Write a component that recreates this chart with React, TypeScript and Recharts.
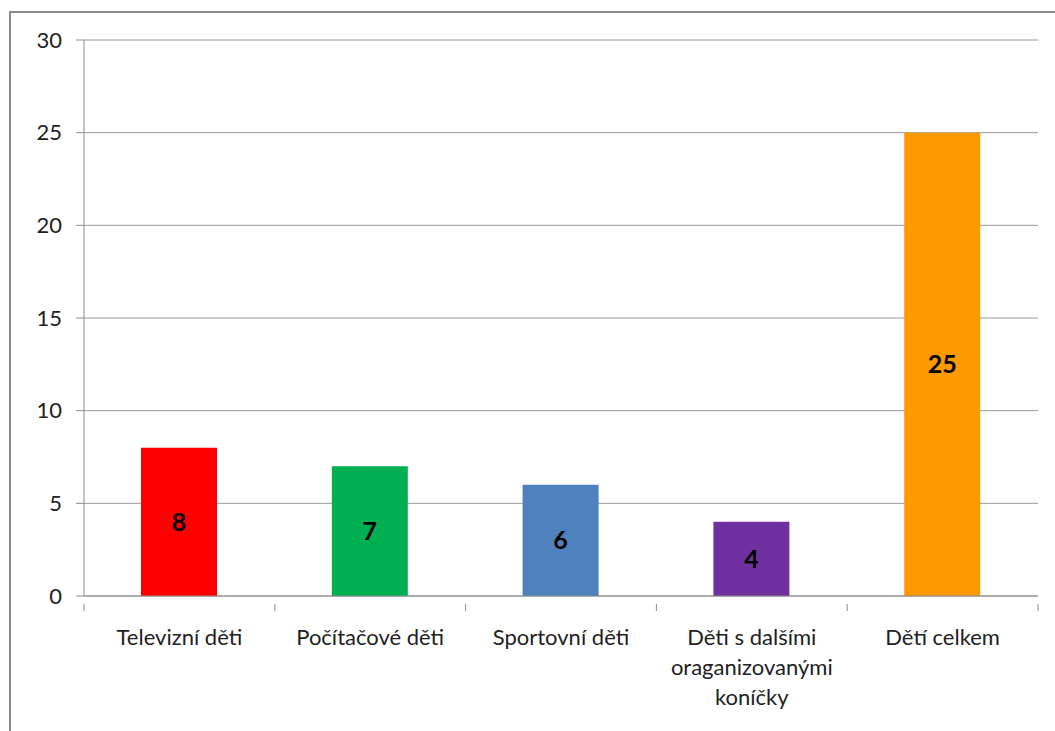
import { BarChart, Bar, XAxis, YAxis, CartesianGrid, Cell, LabelList, Text } from 'recharts';

const categories = [
  'Televizní děti',
  'Počítačové děti',
  'Sportovní děti',
  'Děti s dalšími oraganizovanými koníčky',
  'Dětí celkem',
];
const values = [8, 7, 6, 4, 25];
const colors = ['#FF0000', '#00B050', '#4F81BD', '#7030A0', '#FF9900'];
const yTicks = [0, 5, 10, 15, 20, 25, 30];

const data = categories.map((name, i) => ({ name, value: values[i] }));

const W = 1055;
const H = 731;
const M = { top: 40, right: 17, bottom: 0, left: 0 };
const X_H = 135;
const Y_W = 84;
const band = (W - M.left - M.right - Y_W) / categories.length;
const FONT = 'Lato, "Open Sans", sans-serif';

function CatTick(props: any) {
  const { x, y, payload, index } = props;
  const left = x - band / 2;
  return (
    <g>
      <line x1={left} y1={y} x2={left} y2={y + 7} stroke="#8c8c8c" />
      {index === categories.length - 1 && (
        <line x1={left + band} y1={y} x2={left + band} y2={y + 7} stroke="#8c8c8c" />
      )}
      <Text
        x={x}
        y={y + 25}
        width={172}
        textAnchor="middle"
        verticalAnchor="start"
        lineHeight={30}
        fontSize={22}
        fontFamily={FONT}
        style={{ fontSize: 22, fontFamily: FONT }}
        fill="#222"
      >
        {payload.value}
      </Text>
    </g>
  );
}

export default function App() {
  return (
    <div style={{ position: 'absolute', left: 0, top: 0, width: W, height: H, overflow: 'hidden', background: '#fff' }}>
      <div
        style={{
          position: 'absolute',
          left: 9,
          top: 11,
          width: W + 50,
          height: H + 50,
          border: '2px solid #8a8a8a',
        }}
      />
      <div style={{ position: 'absolute', left: 0, top: 0 }}>
        <BarChart width={W} height={H} data={data} margin={M}>
          <CartesianGrid vertical={false} stroke="#9a9a9a" />
          <XAxis
            dataKey="name"
            stroke="#8c8c8c"
            tickLine={false}
            interval={0}
            tick={<CatTick />}
            height={X_H}
          />
          <YAxis
            domain={[0, 30]}
            ticks={yTicks}
            width={Y_W}
            stroke="#8c8c8c"
            tickSize={8}
            tickMargin={14}
            tick={{ fontSize: 22, fontFamily: FONT, fill: '#222' }}
          />
          <Bar dataKey="value" barSize={76} isAnimationActive={false}>
            {data.map((d, i) => (
              <Cell key={d.name} fill={colors[i]} />
            ))}
            <LabelList
              dataKey="value"
              position="center"
              fill="#000"
              fontSize={25}
              fontWeight="bold"
              fontFamily={FONT}
            />
          </Bar>
        </BarChart>
      </div>
    </div>
  );
}
